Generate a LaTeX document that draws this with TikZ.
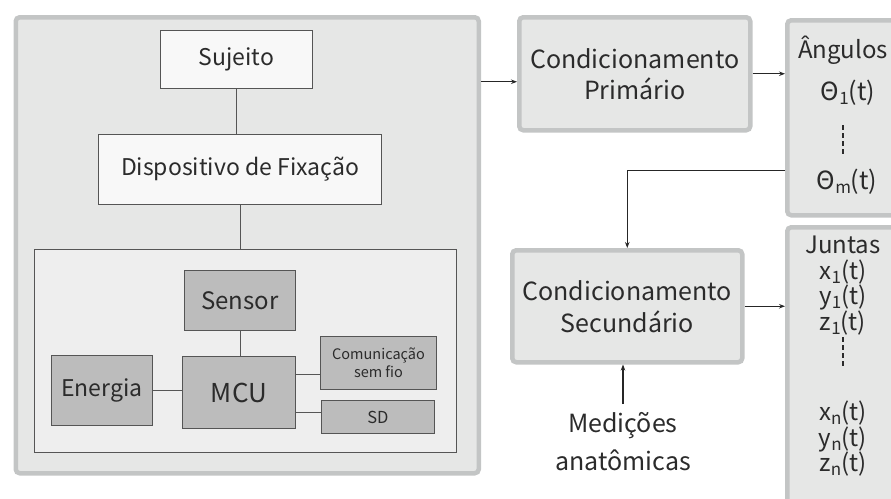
\documentclass[tikz,border=0pt]{standalone}
\usepackage{fontspec}
\setmainfont{Noto Sans CJK JP}
\usetikzlibrary{arrows.meta}

\definecolor{txtgray}{HTML}{2B2B2B}
\definecolor{framegray}{HTML}{C3C5C5}
\definecolor{panelgray}{HTML}{E6E7E6}
\definecolor{innergray}{HTML}{EEEEEE}
\definecolor{lightbox}{HTML}{F8F8F8}
\definecolor{darkbox}{HTML}{BCBCBC}
\definecolor{edgegray}{HTML}{555555}

\newcommand{\lowidx}[1]{\raisebox{-0.3ex}{\fontsize{17}{17}\selectfont #1}}

\tikzset{
  panel/.style={draw=framegray, line width=4.5pt, rounded corners=4pt,
    fill=panelgray, anchor=north west, inner sep=0pt},
  whitebox/.style={draw=edgegray, line width=1pt, fill=lightbox,
    anchor=north west, inner sep=0pt, font=\fontsize{23}{27}\selectfont},
  graybox/.style={draw=edgegray, line width=1pt, fill=darkbox,
    anchor=north west, inner sep=0pt, font=\fontsize{24}{28}\selectfont},
  link/.style={draw=edgegray, line width=1pt},
  arrow/.style={draw=black!85, line width=1.2pt, -{Stealth[length=6pt,width=4.5pt]}},
  label/.style={text=txtgray, inner sep=0pt}
}

\begin{document}
\begin{tikzpicture}[x=1pt, y=-1pt, text=txtgray]
  \useasboundingbox (0,0) rectangle (891,498);

  % Left panel with the device
  \node[panel, minimum width=463pt, minimum height=456pt] (device) at (13.5,15) {};
  \node[whitebox, minimum width=152pt, minimum height=58pt] (sujeito) at (160,30) {Sujeito};
  \node[whitebox, minimum width=283pt, minimum height=70pt] (fixacao) at (98,134) {Dispositivo de Fixação};
  \node[draw=edgegray, line width=1pt, fill=innergray, anchor=north west,
    minimum width=422pt, minimum height=203pt] (hardware) at (34,249) {};

  \node[graybox, minimum width=111pt, minimum height=60pt] (sensor) at (184,270) {Sensor};
  \node[graybox, minimum width=113pt, minimum height=72pt, font=\fontsize{26}{30}\selectfont] (mcu) at (182,356) {MCU};
  \node[graybox, minimum width=101pt, minimum height=70pt, font=\fontsize{23}{27}\selectfont] (energia) at (51,355) {Energia};
  \node[graybox, minimum width=116pt, minimum height=53pt, align=center,
    font=\fontsize{14.5}{18}\selectfont] (wireless) at (320,336) {Comunicação\\sem fio};
  \node[graybox, minimum width=113pt, minimum height=33pt,
    font=\fontsize{16.5}{19}\selectfont] (sd) at (321,400) {SD};

  \draw[link] (sujeito.south) -- (sujeito.south |- fixacao.north);
  \draw[link] (fixacao.south) -- (fixacao.south |- hardware.north);
  \draw[link] (sensor.south) -- (sensor.south |- mcu.north);
  \draw[link] (energia.east) -- (energia.east -| mcu.west);
  \draw[link] ([yshift=18pt]mcu.east) -- ([yshift=18pt]mcu.east -| wireless.west);
  \draw[link] ([yshift=-20pt]mcu.east) -- ([yshift=-20pt]mcu.east -| sd.west);

  % Processing chain
  \node[panel, minimum width=231pt, minimum height=113pt, align=center,
    font=\fontsize{25}{31}\selectfont] (primario) at (517,15) {Condicionamento\\Primário};
  \node[panel, minimum width=230pt, minimum height=112pt, align=center,
    font=\fontsize{25}{32}\selectfont] (secundario) at (510,248) {Condicionamento\\Secundário};
  \node[panel, minimum width=130pt, minimum height=195pt] (angulos) at (785,18) {};
  \node[panel, minimum width=130pt, minimum height=290pt] (juntas) at (785,225) {};

  \node[label, font=\fontsize{24}{28}\selectfont, anchor=west] (angtitle) at (798,50) {Ângulos};
  \node[label, font=\fontsize{25}{28}\selectfont] (theta1) at (848,93) {Θ\lowidx{1}(t)};
  \node[label, font=\fontsize{25}{28}\selectfont] (thetam) at (847,182) {Θ\lowidx{m}(t)};
  \draw[line width=1.3pt, draw=txtgray, dash pattern=on 5pt off 3pt]
    (843,125) -- (843,155);

  \node[label, align=center, font=\fontsize{24}{25.5}\selectfont, anchor=north]
    (jtop) at (843,236) {Juntas\\x\lowidx{1}(t)\\y\lowidx{1}(t)\\z\lowidx{1}(t)};
  \node[label, align=center, font=\fontsize{24}{25.5}\selectfont, anchor=north]
    (jbot) at (843,401) {x\lowidx{n}(t)\\y\lowidx{n}(t)\\z\lowidx{n}(t)};
  \draw[line width=1.3pt, draw=txtgray, dash pattern=on 5pt off 3pt]
    (843,337) -- (843,368);

  \node[label, align=center, font=\fontsize{25}{38}\selectfont, anchor=north,
    inner sep=8pt] (medicoes) at (623,404) {Medições\\anatômicas};

  \draw[arrow] ([yshift=-8pt]device.east |- primario.west) -- ([yshift=-8pt]primario.west);
  \draw[arrow] (primario.east) -- (primario.east -| angulos.west);
  \draw[arrow] ([yshift=-53pt]angulos.west) -| (secundario.north);
  \draw[arrow] (secundario.east) -- (secundario.east -| juntas.west);
  \draw[arrow] (medicoes.north) -- (medicoes.north |- secundario.south);
\end{tikzpicture}
\end{document}
